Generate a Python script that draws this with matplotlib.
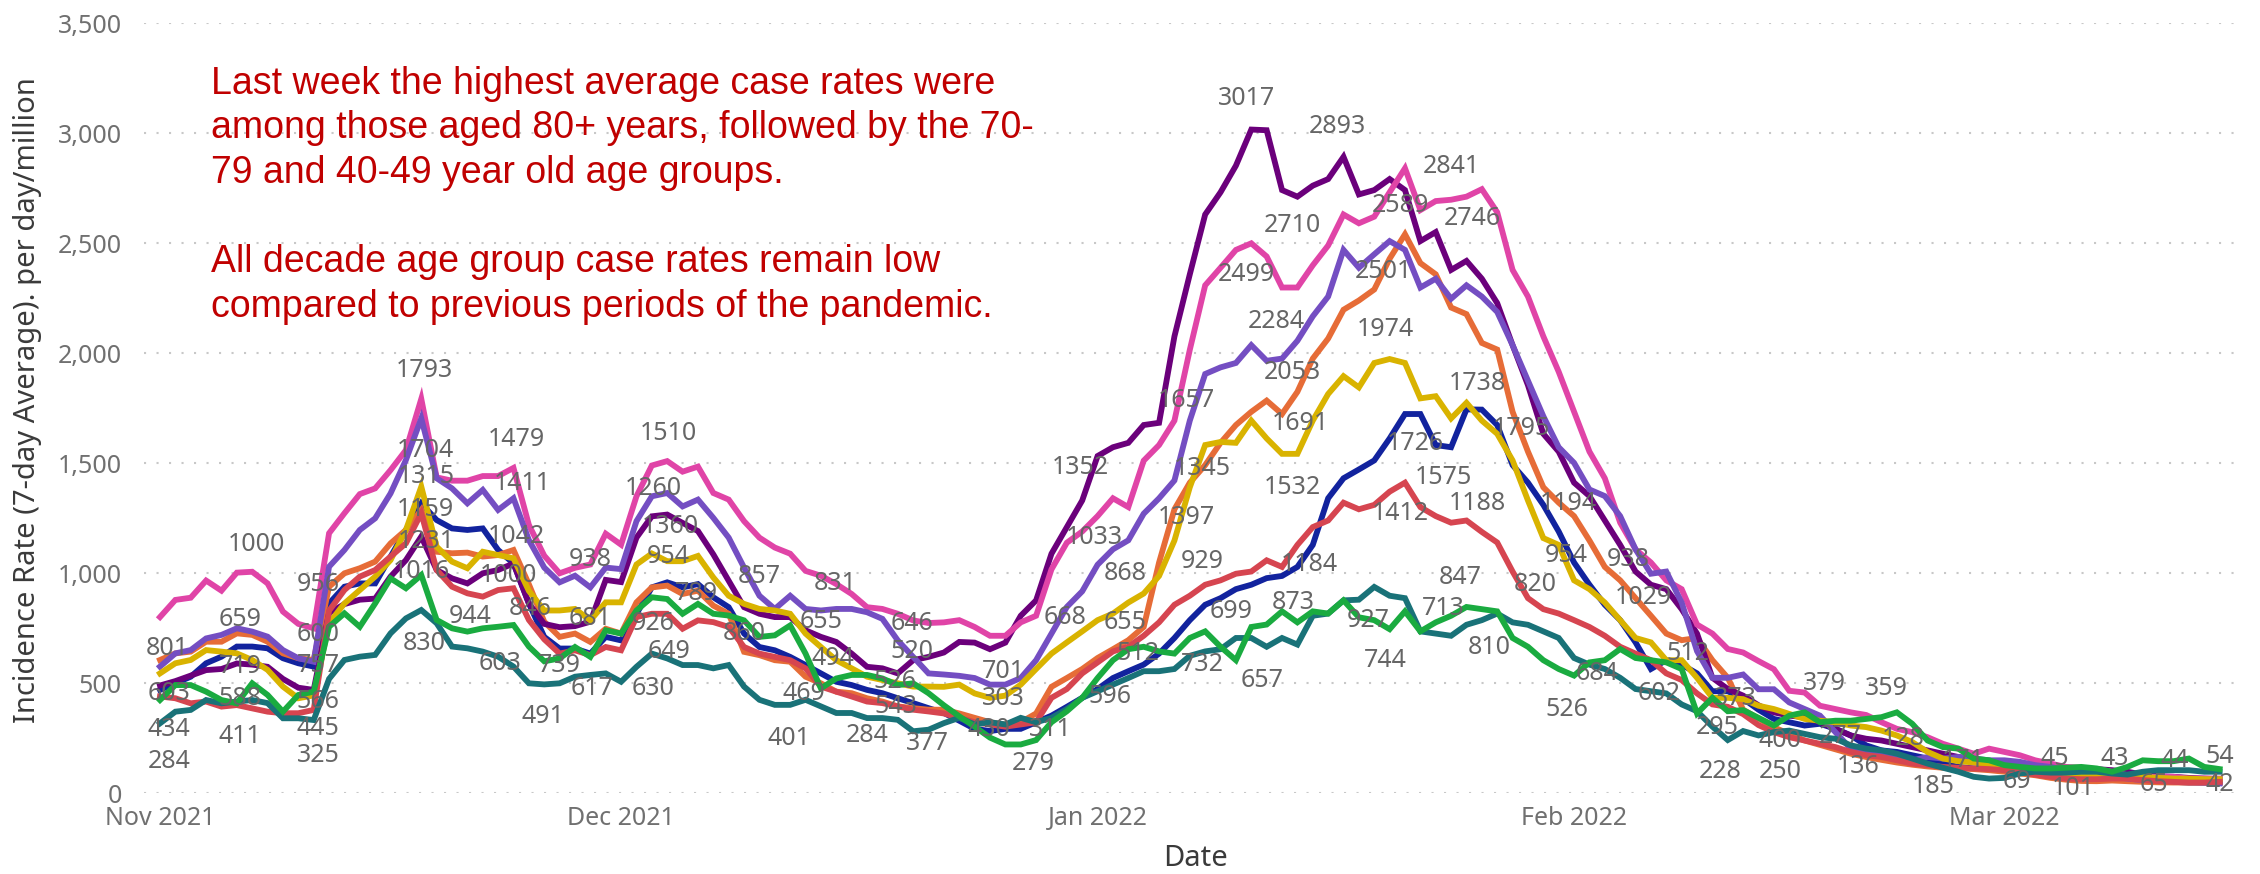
import numpy as np
import pandas as pd
import matplotlib
matplotlib.use("Agg")
import matplotlib.pyplot as plt
import matplotlib.dates as mdates
from matplotlib.ticker import FuncFormatter

plt.rcParams['font.family'] = ['Noto Sans', 'DejaVu Sans']

# daily 7-day average incidence, 1 Nov 2021 .. 15 Mar 2022
start = pd.Timestamp('2021-11-01')
dates = pd.date_range(start, periods=135, freq='D')

age_0_9 = [470, 500, 530, 591, 621, 667, 667, 659, 614, 591, 576, 863, 939, 954, 954, 1076, 1197, 1318, 1242, 1204, 1197, 1204, 1106, 1045, 863,
           711, 658, 658, 635, 711, 695, 816, 936, 959, 936, 951, 891, 846, 726, 665, 650, 620, 583, 545, 507, 492, 470, 455, 432, 410, 387,
           365, 330, 293, 283, 293, 293, 323, 353, 393, 434, 474, 524, 555, 585, 635, 706, 787, 857, 887, 928, 948, 978, 988, 1029, 1129, 1341, 1432, 1472,
           1513, 1613, 1724, 1724, 1583, 1573, 1745, 1744, 1674, 1492, 1412, 1311, 1190, 1049, 948, 857, 787, 686, 565, 605, 585, 545, 464, 464,
           430, 380, 338, 323, 308, 316, 293, 263, 218, 195, 188, 173, 158, 135, 120, 113, 110, 105, 100, 98, 90, 85, 82, 75, 67, 60, 55, 52, 52, 49, 49, 49]
age_10_19 = [606, 636, 644, 689, 689, 727, 720, 689, 636, 614, 606, 939, 1000, 1023, 1053, 1136, 1197, 1288, 1098, 1091, 1094, 1076, 1083, 1106, 950,
             780, 711, 726, 688, 748, 726, 868, 936, 944, 906, 921, 853, 816, 643, 628, 605, 598, 530, 500, 462, 455, 432, 417, 395, 387, 380,
             380, 363, 343, 323, 313, 323, 363, 484, 524, 565, 615, 655, 696, 756, 1049, 1291, 1412, 1492, 1593, 1674, 1734, 1785, 1724, 1825, 1976, 2067, 2198, 2240,
             2290, 2430, 2541, 2410, 2359, 2208, 2178, 2047, 2017, 1734, 1553, 1391, 1321, 1260, 1149, 1029, 968, 887, 807, 726, 696, 706, 605, 525,
             380, 340, 300, 270, 240, 220, 200, 180, 165, 152, 140, 130, 122, 116, 113, 110, 105, 98, 90, 82, 70, 62, 56, 55, 58, 55, 52, 50, 49, 49, 49, 48]
age_20_29 = [490, 510, 535, 560, 565, 590, 585, 575, 520, 480, 470, 820, 860, 880, 885, 985, 1060, 1167, 1015, 977, 954, 1000, 1015, 1045, 863,
             770, 755, 760, 780, 970, 960, 1162, 1259, 1267, 1229, 1192, 1086, 966, 846, 816, 801, 801, 741, 711, 688, 635, 575, 568, 545, 605, 620,
             640, 688, 685, 655, 685, 807, 877, 1089, 1210, 1331, 1533, 1573, 1593, 1674, 1684, 2077, 2359, 2631, 2732, 2853, 3017, 3014, 2742, 2712, 2762, 2792, 2893, 2722,
             2742, 2792, 2742, 2510, 2551, 2379, 2420, 2339, 2228, 2037, 1855, 1634, 1553, 1412, 1351, 1240, 1129, 1008, 948, 928, 837, 726, 525, 474,
             444, 400, 368, 353, 346, 323, 293, 263, 248, 240, 225, 210, 195, 180, 165, 155, 148, 142, 135, 128, 120, 113, 110, 110, 105, 98, 85, 78, 75, 70, 67, 64]
age_30_39 = [801, 879, 889, 967, 921, 1003, 1007, 954, 826, 770, 750, 1182, 1273, 1360, 1386, 1469, 1560, 1793, 1436, 1421, 1421, 1442, 1442, 1479, 1220,
             1080, 1000, 1025, 1040, 1180, 1130, 1350, 1490, 1510, 1462, 1485, 1365, 1335, 1237, 1162, 1117, 1089, 1011, 989, 951, 906, 846, 838, 816, 786, 774,
             777, 787, 756, 716, 716, 777, 807, 1018, 1139, 1190, 1260, 1341, 1301, 1512, 1583, 1694, 2016, 2309, 2389, 2470, 2500, 2440, 2299, 2299, 2400, 2490, 2631, 2591,
             2621, 2732, 2841, 2651, 2692, 2698, 2712, 2746, 2641, 2379, 2258, 2077, 1916, 1734, 1553, 1432, 1230, 1109, 1049, 968, 928, 767, 726, 656,
             640, 601, 564, 466, 458, 398, 383, 368, 356, 323, 293, 278, 255, 225, 203, 180, 203, 188, 173, 150, 135, 120, 116, 110, 98, 82, 75, 75, 75, 67, 67, 67]
age_40_49 = [576, 636, 651, 704, 720, 750, 735, 712, 651, 614, 598, 1030, 1106, 1197, 1250, 1363, 1515, 1704, 1432, 1386, 1318, 1379, 1288, 1341, 1151,
             1026, 959, 989, 936, 1026, 1019, 1237, 1350, 1365, 1304, 1335, 1252, 1162, 1026, 898, 838, 898, 838, 831, 838, 838, 823, 793, 695, 620, 545,
             540, 534, 524, 494, 494, 524, 605, 726, 847, 918, 1039, 1109, 1150, 1271, 1341, 1422, 1694, 1906, 1936, 1956, 2037, 1966, 1976, 2057, 2168, 2258, 2470, 2389,
             2450, 2510, 2470, 2299, 2339, 2248, 2309, 2258, 2188, 2037, 1875, 1714, 1573, 1502, 1381, 1351, 1260, 1109, 998, 1008, 867, 646, 525, 525,
             540, 473, 473, 413, 383, 353, 278, 203, 188, 180, 158, 150, 165, 158, 165, 158, 150, 150, 143, 128, 120, 105, 98, 90, 75, 67, 60, 60, 55, 52, 49, 45]
age_50_59 = [545, 591, 606, 651, 644, 636, 606, 561, 485, 432, 445, 773, 863, 924, 985, 1060, 1197, 1394, 1121, 1053, 1023, 1098, 1083, 1068, 920,
             831, 831, 838, 786, 868, 868, 1040, 1090, 1055, 1055, 1079, 981, 898, 861, 838, 831, 816, 726, 665, 605, 568, 530, 515, 500, 485, 485,
             484, 494, 454, 434, 444, 494, 565, 635, 686, 736, 787, 817, 867, 908, 988, 1149, 1391, 1583, 1597, 1593, 1694, 1613, 1543, 1543, 1694, 1815, 1896, 1845,
             1956, 1974, 1956, 1795, 1805, 1704, 1775, 1694, 1634, 1513, 1331, 1160, 1129, 968, 928, 867, 787, 706, 686, 605, 605, 525, 434, 434,
             428, 398, 383, 361, 338, 330, 323, 308, 301, 285, 263, 233, 188, 158, 146, 140, 128, 120, 113, 105, 98, 90, 82, 82, 79, 75, 75, 70, 67, 67, 64, 64]
age_60_69 = [440, 432, 409, 417, 394, 401, 386, 371, 364, 364, 379, 830, 924, 985, 1015, 1076, 1136, 1273, 1015, 939, 909, 894, 924, 932, 788,
             700, 635, 650, 628, 665, 650, 801, 816, 816, 748, 786, 778, 756, 665, 635, 620, 605, 568, 485, 462, 440, 417, 410, 395, 380, 372,
             363, 343, 323, 313, 303, 313, 323, 434, 474, 545, 595, 645, 666, 716, 777, 857, 898, 948, 968, 998, 1008, 1059, 1029, 1129, 1210, 1240, 1321, 1291,
             1311, 1371, 1412, 1301, 1260, 1230, 1240, 1188, 1140, 1008, 887, 837, 817, 787, 756, 716, 666, 635, 605, 545, 515, 454, 404, 393,
             360, 310, 278, 255, 240, 225, 210, 188, 173, 165, 150, 135, 128, 120, 116, 113, 110, 105, 98, 85, 75, 67, 64, 64, 67, 67, 60, 55, 52, 49, 49, 52]
age_70_79 = [318, 371, 379, 424, 409, 417, 424, 410, 341, 341, 333, 520, 606, 621, 629, 727, 795, 833, 773, 667, 659, 644, 621, 576, 500,
             495, 500, 530, 538, 545, 507, 575, 635, 613, 583, 583, 568, 583, 485, 425, 402, 402, 425, 395, 365, 365, 342, 342, 334, 282, 289,
             319, 343, 313, 323, 313, 343, 323, 343, 383, 434, 464, 494, 524, 555, 555, 565, 625, 645, 655, 706, 706, 666, 706, 676, 807, 817, 877, 880,
             938, 898, 887, 736, 726, 716, 766, 787, 817, 777, 766, 736, 706, 615, 585, 565, 525, 474, 464, 454, 404, 373, 303, 242,
             283, 263, 278, 285, 270, 255, 248, 218, 203, 195, 180, 158, 135, 116, 98, 75, 67, 70, 90, 98, 94, 94, 98, 98, 90, 85, 98, 105, 105, 105, 98, 98]
age_80_plus = [424, 492, 492, 462, 424, 409, 500, 447, 371, 447, 462, 757, 818, 757, 863, 977, 932, 992, 788, 750, 735, 750, 757, 765, 667,
               600, 613, 665, 620, 741, 726, 831, 891, 883, 816, 861, 816, 808, 786, 711, 718, 763, 635, 477, 522, 538, 538, 522, 492, 500, 455,
               400, 350, 303, 253, 222, 222, 242, 323, 373, 434, 524, 605, 655, 666, 645, 635, 706, 736, 666, 605, 756, 767, 827, 777, 827, 817, 877, 800,
               787, 746, 827, 736, 777, 807, 847, 837, 827, 706, 666, 605, 565, 535, 595, 605, 656, 615, 605, 595, 565, 363, 434, 373,
               378, 343, 308, 353, 368, 323, 330, 330, 338, 346, 368, 316, 240, 210, 203, 158, 150, 128, 120, 113, 113, 116, 120, 113, 98, 120, 150, 146, 146, 158, 120, 110]

# data labels as shown on the chart: text, day since 1 Nov, value
lbl_text = ['1793', '1704', '1315', '1159', '1231', '1016', '830', '1479', '1411', '1042', '1000', '846', '944', '603', '491',
            '1000', '659', '801', '719', '603', '588', '434', '284', '411', '956', '600', '757', '566', '445', '325',
            '1510', '1260', '1360', '954', '938', '681', '739', '617', '630', '649', '926', '789', '857', '831', '860',
            '655', '494', '469', '401', '284', '646', '520', '526', '543', '377',
            '3017', '2893', '2710', '2499', '2284', '2053', '1691', '1657', '1532', '1345', '1397', '1352', '1033', '929',
            '868', '1184', '668', '655', '699', '873', '701', '303', '512', '732', '657', '596', '430', '311', '279',
            '2841', '2589', '2746', '2501', '1974', '1738', '1726', '1795', '1575', '1412', '1188', '1194', '954', '938',
            '1029', '820', '847', '927', '713', '744', '810', '526', '684', '512', '602', '373', '295', '228',
            '379', '359', '400', '277', '128', '250', '136', '171', '185', '69', '45', '101', '43', '65', '44', '54', '42']
lbl_day = [17.2, 17.3, 17.3, 17.3, 17.3, 17.0, 17.2, 23.2, 23.6, 23.2, 22.7, 24.1, 20.2, 22.1, 24.9,
           6.3, 5.2, 0.5, 5.2, 0.6, 5.2, 0.6, 0.6, 5.2, 10.3, 10.3, 10.3, 10.3, 10.3, 10.3,
           33.1, 32.1, 33.2, 33.1, 28.0, 28.0, 26.0, 28.1, 32.1, 33.1, 32.1, 34.9, 39.0, 43.9, 38.0,
           43.0, 43.8, 41.9, 40.9, 46.0, 48.9, 48.9, 47.8, 47.9, 49.9,
           70.7, 76.6, 73.7, 70.7, 72.6, 73.7, 74.2, 66.8, 73.7, 67.8, 66.8, 59.9, 60.8, 67.8,
           62.8, 74.8, 58.9, 62.8, 69.7, 73.7, 54.9, 54.9, 63.6, 67.8, 71.7, 61.8, 53.9, 57.9, 56.8,
           84.0, 80.7, 85.4, 79.6, 79.7, 85.7, 81.7, 88.6, 83.5, 80.7, 85.7, 91.6, 91.5, 95.5,
           96.5, 89.5, 84.6, 78.6, 83.5, 79.7, 86.5, 91.5, 93.5, 99.4, 97.5, 102.5, 101.3, 101.5,
           108.3, 112.3, 105.4, 109.3, 113.4, 105.4, 110.5, 117.3, 115.4, 120.8, 123.3, 124.5, 127.2, 129.7, 131.1, 134.0, 134.0]
lbl_val = [1924, 1560, 1439, 1288, 1144, 1007, 682, 1606, 1409, 1166, 992, 841, 803, 591, 348,
           1129, 788, 659, 576, 455, 432, 288, 144, 257, 947, 720, 583, 417, 295, 174,
           1636, 1386, 1212, 1076, 1061, 796, 583, 477, 477, 644, 773, 909, 985, 955, 727,
           780, 614, 455, 250, 265, 773, 644, 507, 394, 227,
           3157, 3029, 2583, 2360, 2146, 1913, 1680, 1785, 1392, 1477, 1254, 1481, 1162, 1055,
           1000, 1040, 797, 777, 827, 868, 554, 432, 634, 584, 513, 442, 290, 290, 135,
           2847, 2674, 2613, 2370, 2106, 1862, 1589, 1659, 1436, 1274, 1318, 1318, 1081, 1061,
           888, 949, 980, 787, 838, 604, 665, 381, 543, 634, 452, 432, 300, 97,
           497, 477, 242, 257, 250, 98, 121, 151, 30, 53, 159, 23, 159, 38, 151, 166, 38]

note_lines = ["Last week the highest average case rates were",
              "among those aged 80+ years, followed by the 70-",
              "79 and 40-49 year old age groups.",
              "All decade age group case rates remain low",
              "compared to previous periods of the pandemic."]

series = [age_0_9, age_10_19, age_20_29, age_30_39, age_40_49,
          age_50_59, age_60_69, age_70_79, age_80_plus]
colors = ['#12239E', '#E66C37', '#6B007B', '#E044A7', '#744EC2',
          '#D9B300', '#D64550', '#197278', '#1AAB40']

W, H = 2260, 874
fig = plt.figure(figsize=(W / 100, H / 100), dpi=100)
ax = fig.add_axes([144 / W, 80.7 / H, (2237 - 144) / W, 770 / H])

for vals, c in zip(series, colors):
    ax.plot(dates, vals, color=c, lw=4.2, solid_joinstyle='miter', zorder=3)

for t, d, v in zip(lbl_text, lbl_day, lbl_val):
    ax.text(start + pd.Timedelta(days=d), v, t, ha='center', va='center',
            fontsize=18, color='#666666', zorder=5)

ax.set_ylim(0, 3500)
ax.set_xlim(start + pd.Timedelta(days=-1.04), start + pd.Timedelta(days=135.13))
ax.set_yticks(np.arange(0, 3501, 500))
ax.yaxis.set_major_formatter(FuncFormatter(lambda v, p: f'{int(v):,}'))
ax.xaxis.set_major_locator(mdates.MonthLocator())
ax.xaxis.set_major_formatter(mdates.DateFormatter('%b %Y'))
ax.grid(axis='y', color='#C8C8C8', linestyle=(0, (1, 5)), linewidth=1.5)
ax.set_axisbelow(True)
for s in ax.spines.values():
    s.set_visible(False)
ax.tick_params(axis='both', length=0, labelsize=18, colors='#707070')
ax.tick_params(axis='y', pad=16)
ax.tick_params(axis='x', pad=9)

fig.text(28 / W, 1 - 400 / H, 'Incidence Rate (7-day Average). per day/million',
         rotation=90, ha='center', va='center', fontsize=21, color='#3A3A3A')
fig.text(1196 / W, 1 - 858 / H, 'Date', ha='center', va='center',
         fontsize=21, fontweight='bold', color='#3A3A3A')

for line, yc in zip(note_lines, [81, 125.5, 170, 259, 304]):
    fig.text(211 / W, 1 - (yc + 13) / H, line, ha='left', va='baseline',
             fontsize=27, color='#C00000', family=['Liberation Sans', 'DejaVu Sans'])

fig.savefig('out.png', dpi=100)
